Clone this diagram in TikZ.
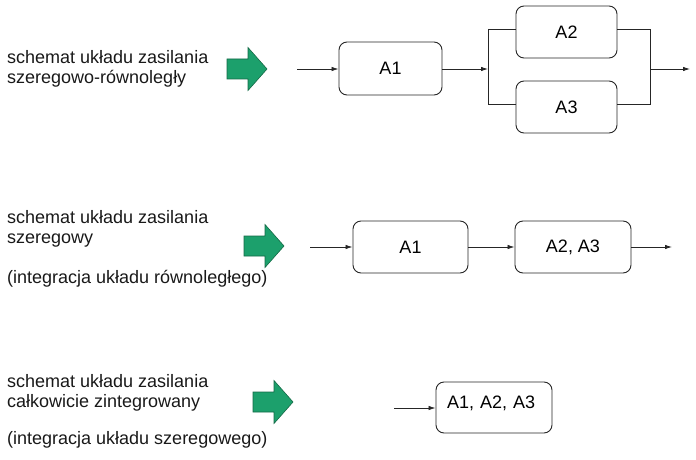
\documentclass[tikz,border=0pt]{standalone}
\usepackage{fontspec}
\setmainfont{Liberation Sans}
\usetikzlibrary{arrows.meta}
\definecolor{arrowgreen}{RGB}{28,160,108}
\definecolor{arrowedge}{RGB}{20,105,70}
\begin{document}
\begin{tikzpicture}[x=1pt,y=-1pt,
blk/.style={draw=black!85, line width=0.9pt, rounded corners=8pt,
font=\fontsize{18}{21}\selectfont, inner sep=0pt},
lbl/.style={anchor=base west, align=left, inner sep=0pt,
font=\fontsize{18}{20.5}\selectfont, text=black!90},
flow/.style={-{Latex[length=7pt,width=4.5pt]}, line width=0.8pt, black!85},
wire/.style={line width=0.8pt, black!85},
garrow/.style={fill=arrowgreen, draw=arrowedge, line width=0.6pt, line join=miter}]
\useasboundingbox (0,0) rectangle (696,460);
\node[lbl] (t1) at (7,84) {schemat układu zasilania\\szeregowo-równoległy};
\node[lbl] (t2) at (7,283) {schemat układu zasilania\\szeregowy\\[19pt](integracja układu równoległego)};
\node[lbl] (t3) at (7,444) {schemat układu zasilania\\całkowicie zintegrowany\\[16pt](integracja układu szeregowego)};
\foreach \x/\y in {227/69, 244/246, 253/402}
\draw[garrow] (\x,\y) ++(0,-10) -- ++(21,0) -- ++(0,-11.5) -- ++(19,21.5)
-- ++(-19,21.5) -- ++(0,-11.5) -- ++(-21,0) -- cycle;
\node[blk, minimum width=103pt, minimum height=53pt] (a1) at (390.5,68.5) {A1};
\node[blk, minimum width=101pt, minimum height=52pt] (a2) at (566.5,32) {A2};
\node[blk, minimum width=101pt, minimum height=52pt] (a3) at (566.5,107) {A3};
\coordinate (in1) at (297,69);
\coordinate (j1) at (488,69);
\coordinate (s1) at (488,29);
\coordinate (s2) at (488,104);
\coordinate (m1) at (650,29);
\coordinate (m2) at (650,104);
\coordinate (out1) at (690,69);
\draw[flow] (in1) -- (a1.west |- in1);
\draw[flow] (a1.east |- j1) -- (j1);
\draw[wire] (s1) -- (s2);
\draw[wire] (s1) -- (s1 -| a2.west);
\draw[wire] (s2) -- (s2 -| a3.west);
\draw[wire] (a2.east |- m1) -- (m1) -- (m2) -- (a3.east |- m2);
\draw[flow] (m1 |- out1) -- (out1);
\node[blk, minimum width=115pt, minimum height=52pt] (b1) at (410.5,247) {A1};
\node[blk, minimum width=116pt, minimum height=52pt] (b2) at (573,247) {A2, A3};
\coordinate (in2) at (310,247);
\coordinate (out2) at (672,247);
\draw[flow] (in2) -- (b1);
\draw[flow] (b1) -- (b2);
\draw[flow] (b2) -- (out2);
\node[blk, text width=94pt, align=left, inner xsep=11pt, text height=26pt,
text depth=25pt] (c1) at (494,407.5) {A1, A2, A3};
\coordinate (in3) at (394,408);
\draw[flow] (in3) -- (c1.west |- in3);
\end{tikzpicture}
\end{document}
